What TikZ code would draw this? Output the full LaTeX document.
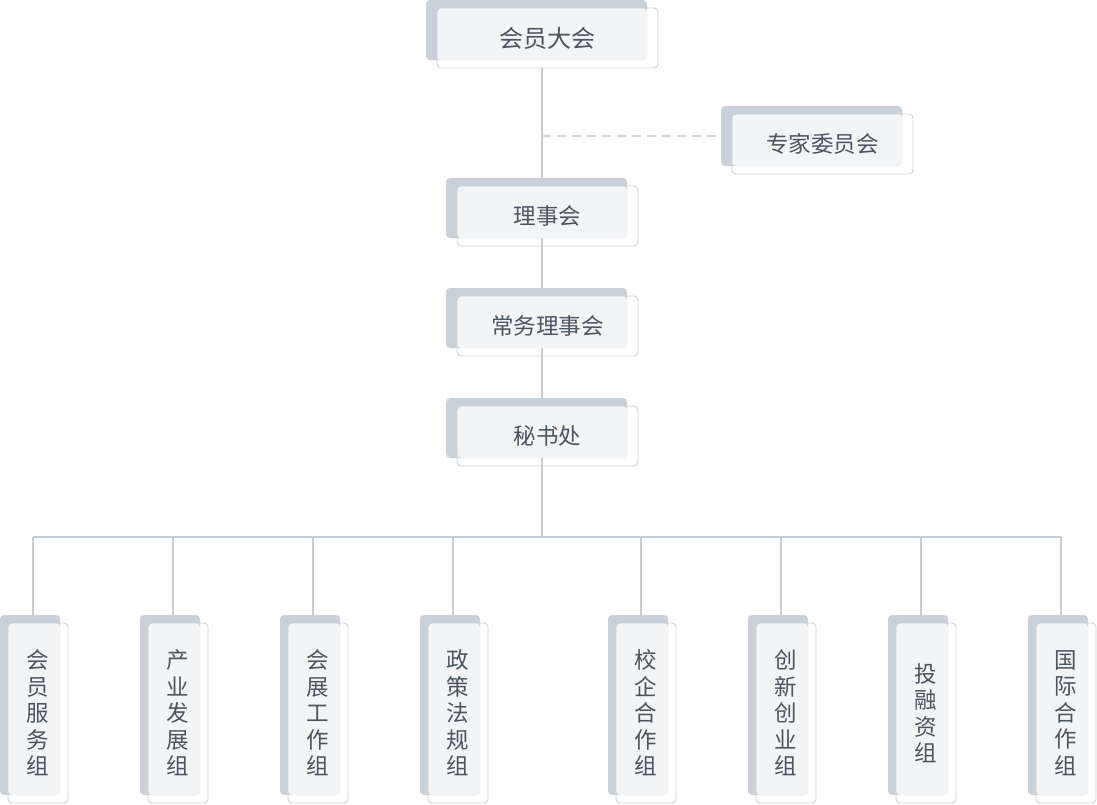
\documentclass[tikz,border=0pt]{standalone}
\usepackage{fontspec}
\setmainfont{Noto Sans CJK SC}
\definecolor{shadowc}{HTML}{C8D0D9}
\definecolor{lightc}{HTML}{F3F4F6}
\definecolor{edgec}{HTML}{CBD2DA}
\definecolor{linec}{HTML}{C5CDD6}
\definecolor{dashc}{HTML}{D2D7DD}
\definecolor{textc}{HTML}{4A5562}
\tikzset{
  frontbox/.style={draw=edgec,line width=0.9pt,rounded corners=4pt,inner sep=0pt,text=textc,align=center},
  conn/.style={draw=linec,line width=1.6pt},
  dashconn/.style={draw=dashc,line width=1.6pt,dash pattern=on 9pt off 6pt},
}
% #1 name, #2 shadow left, #3 shadow top, #4 width, #5 height, #6 dx, #7 dy, #8 font, #9 text
\newcommand\orgbox[9]{%
  \fill[shadowc,rounded corners=4pt] (#2,#3) rectangle ++(#4,#5);
  \fill[lightc,rounded corners=4pt] (#2+#6,#3+#7) rectangle (#2+#4,#3+#5);
  \node[frontbox,minimum width=#4 pt,minimum height=#5 pt,font=#8] (#1) at (#2+#6+#4/2,#3+#7+#5/2) {#9};
}
\begin{document}
\begin{tikzpicture}[x=1pt,y=-1pt]
\useasboundingbox (0,0) rectangle (1097,804);
% connector coordinates
\coordinate (trunktop) at (542,68);
\coordinate (trunk) at (542,537);
\coordinate (dashstart) at (542,136);
\coordinate (dashend) at (721,136);
\coordinate (busL) at (33,537);
\coordinate (busR) at (1061,537);
\foreach \x [count=\i] in {33,173,313,453,641,781,921,1061}{
  \coordinate (b\i) at (\x,537);
  \coordinate (t\i) at (\x,616);
}
\draw[conn] (trunktop) -- (trunk);
\draw[dashconn] (dashstart) -- (dashend);
\draw[conn] (busL) -- (busR);
\foreach \i in {1,...,8}{ \draw[conn] (b\i) -- (t\i); }
% top boxes
\orgbox{assembly}{426}{0}{221}{60}{11}{8}{\fontsize{24}{28}\selectfont}{会员大会}
\orgbox{experts}{721}{106}{181}{60}{11}{8}{\fontsize{22.5}{27}\selectfont}{专家委员会}
\orgbox{council}{446}{178}{181}{60}{11}{8}{\fontsize{22.5}{27}\selectfont}{理事会}
\orgbox{standing}{446}{288}{181}{60}{11}{8}{\fontsize{22.5}{27}\selectfont}{常务理事会}
\orgbox{secretariat}{446}{398}{181}{60}{11}{8}{\fontsize{22.5}{27}\selectfont}{秘书处}
% bottom groups
\orgbox{g1}{0}{615}{60}{180}{8}{8}{\fontsize{22.5}{26.5}\selectfont}{会\\员\\服\\务\\组}
\orgbox{g2}{140}{615}{60}{180}{8}{8}{\fontsize{22.5}{26.5}\selectfont}{产\\业\\发\\展\\组}
\orgbox{g3}{280}{615}{60}{180}{8}{8}{\fontsize{22.5}{26.5}\selectfont}{会\\展\\工\\作\\组}
\orgbox{g4}{420}{615}{60}{180}{8}{8}{\fontsize{22.5}{26.5}\selectfont}{政\\策\\法\\规\\组}
\orgbox{g5}{608}{615}{60}{180}{8}{8}{\fontsize{22.5}{26.5}\selectfont}{校\\企\\合\\作\\组}
\orgbox{g6}{748}{615}{60}{180}{8}{8}{\fontsize{22.5}{26.5}\selectfont}{创\\新\\创\\业\\组}
\orgbox{g7}{888}{615}{60}{180}{8}{8}{\fontsize{22.5}{26.5}\selectfont}{投\\融\\资\\组}
\orgbox{g8}{1028}{615}{60}{180}{8}{8}{\fontsize{22.5}{26.5}\selectfont}{国\\际\\合\\作\\组}
\end{tikzpicture}
\end{document}
